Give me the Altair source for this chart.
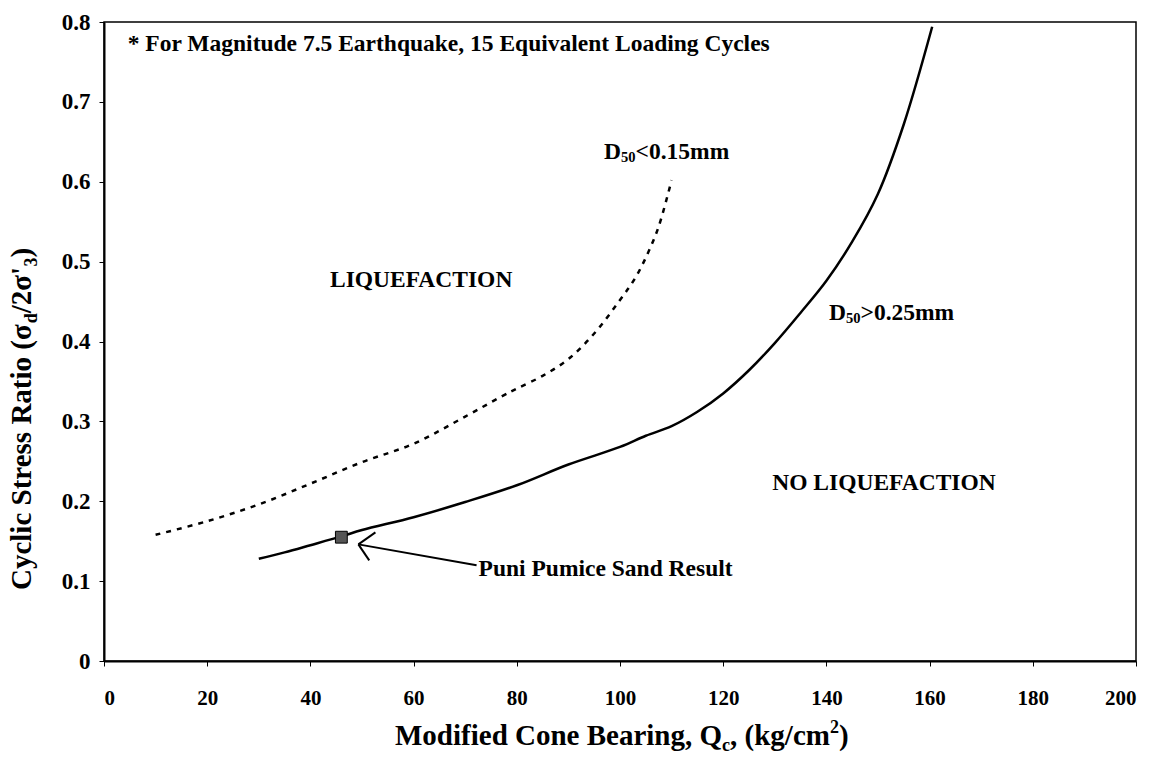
import altair as alt
import pandas as pd

# Boundary for clean sands, D50 > 0.25 mm (solid curve)
coarse_qc = [30, 35, 40, 46, 50, 60, 70, 80, 90, 100, 105, 110, 115, 120, 125, 130, 135, 140, 145, 150, 155, 160.5]
coarse_csr = [0.128, 0.136, 0.145, 0.156, 0.164, 0.180, 0.199, 0.220, 0.246, 0.268, 0.282, 0.294, 0.312,
              0.335, 0.364, 0.398, 0.436, 0.476, 0.525, 0.585, 0.672, 0.794]

# Boundary for fine sands, D50 < 0.15 mm (dotted curve)
fine_qc = [10, 20, 30, 40, 50, 60, 70, 77, 80, 85, 90, 95, 100, 103, 105.5, 107.5, 110]
fine_csr = [0.158, 0.175, 0.196, 0.222, 0.249, 0.272, 0.306, 0.331, 0.341, 0.357, 0.378, 0.410, 0.452,
            0.480, 0.512, 0.544, 0.602]

# Test result
result_qc = [46]
result_csr = [0.155]

# Arrow pointing at the test result: shaft, upper barb, lower barb
arrow_x = [72.2, 49.3, 49.3]
arrow_y = [0.120, 0.146, 0.146]
arrow_x2 = [49.3, 52.6, 51.4]
arrow_y2 = [0.146, 0.161, 0.126]

x_ticks = [0, 20, 40, 60, 80, 100, 120, 140, 160, 180, 200]
y_ticks = [0, 0.1, 0.2, 0.3, 0.4, 0.5, 0.6, 0.7, 0.8]

SERIF = "Liberation Serif"
PLOT_W, PLOT_H = 1032, 639

# Advance widths (1/1000 em) of the bold serif face, used to lay out
# titles that mix normal, subscript and superscript runs.
ADV = {
    " ": 250, ",": 250, "(": 333, ")": 333, "/": 278, "'": 278, "<": 570, ">": 570, ".": 250,
    "0": 500, "1": 500, "2": 500, "3": 500, "5": 500,
    "M": 944, "C": 722, "B": 667, "Q": 778, "S": 556, "R": 722, "D": 722,
    "a": 500, "b": 556, "c": 444, "d": 556, "e": 444, "f": 333, "g": 500, "i": 278, "k": 556,
    "l": 278, "m": 833, "n": 556, "o": 500, "r": 444, "s": 389, "t": 333, "y": 500,
    "σ": 560,
}


def text_width(s, size):
    return sum(ADV.get(ch, 500) for ch in s) / 1000.0 * size


one_row = pd.DataFrame({"k": [0]})


def rich_title(pieces, x0, y0, size, angle=0):
    """Pixel-positioned title made of runs: (text, scale, shift in em, + = lower)."""
    layers = []
    pos = 0.0
    for txt, scale, shift in pieces:
        fs = size * scale
        off = shift * size
        if angle == 0:
            px, py = x0 + pos, y0 + off
        else:  # rotated 270: text runs bottom-to-top
            px, py = x0 + off, y0 - pos
        layers.append(
            alt.Chart(one_row).mark_text(
                text=txt, font=SERIF, fontWeight="bold", fontSize=fs,
                align="left", baseline="alphabetic", angle=angle, color="black",
            ).encode(x=alt.value(px), y=alt.value(py))
        )
        pos += text_width(txt, fs)
    return layers


def note(txt, qc, csr, size=23.5):
    return alt.Chart(pd.DataFrame({"qc": [qc], "csr": [csr]})).mark_text(
        text=txt, font=SERIF, fontWeight="bold", fontSize=size,
        align="left", baseline="middle", color="black",
    ).encode(x="qc:Q", y="csr:Q")


def d50_note(rest, qc, csr, size=23.5):
    """'D' with a subscript '50' followed by the rest of the label."""
    df = pd.DataFrame({"qc": [qc], "csr": [csr]})
    sub = size * 0.62
    w_d = text_width("D", size)
    w_sub = text_width("50", sub)
    parts = [("D", size, 0, 0), ("50", sub, w_d, 0.25 * size), (rest, size, w_d + w_sub, 0)]
    return [
        alt.Chart(df).mark_text(
            text=t, font=SERIF, fontWeight="bold", fontSize=fs, dx=dx, dy=dy,
            align="left", baseline="middle", color="black",
        ).encode(x="qc:Q", y="csr:Q")
        for t, fs, dx, dy in parts
    ]


x_scale = alt.Scale(domain=[0, 200], nice=False, zero=False)
y_scale = alt.Scale(domain=[0, 0.8], nice=False, zero=False)

axis_common = dict(
    labelFont=SERIF, labelFontWeight="bold", labelColor="black",
    tickColor="black", tickSize=5, tickWidth=1, domainColor="black", domainWidth=2,
    grid=False, title=None,
)

coarse_df = pd.DataFrame({"qc": coarse_qc, "csr": coarse_csr})
fine_df = pd.DataFrame({"qc": fine_qc, "csr": fine_csr})

coarse_line = alt.Chart(coarse_df).mark_line(
    color="black", strokeWidth=2.5, interpolate="catmull-rom"
).encode(
    x=alt.X("qc:Q", scale=x_scale,
            axis=alt.Axis(values=x_ticks, format="d", labelFontSize=21, labelPadding=21, **axis_common)),
    y=alt.Y("csr:Q", scale=y_scale,
            axis=alt.Axis(values=y_ticks, format="~g", labelFontSize=23, labelPadding=9, **axis_common)),
)

fine_line = alt.Chart(fine_df).mark_line(
    color="black", strokeWidth=2.5, strokeDash=[5, 6], interpolate="catmull-rom"
).encode(x="qc:Q", y="csr:Q")

result_pt = alt.Chart(pd.DataFrame({"qc": result_qc, "csr": result_csr})).mark_point(
    shape="square", filled=True, size=140, fill="#555555", stroke="black", strokeWidth=1, opacity=1
).encode(x="qc:Q", y="csr:Q")

arrow = alt.Chart(pd.DataFrame({"x": arrow_x, "y": arrow_y, "x2": arrow_x2, "y2": arrow_y2})).mark_rule(
    color="black", strokeWidth=2
).encode(x="x:Q", y="y:Q", x2="x2:Q", y2="y2:Q")

layers = [coarse_line, fine_line, arrow, result_pt]
layers.append(note("* For Magnitude 7.5 Earthquake, 15 Equivalent Loading Cycles", 4.6, 0.772))
layers.append(note("LIQUEFACTION", 43.8, 0.477))
layers.append(note("NO LIQUEFACTION", 129.5, 0.223))
layers.append(note("Puni Pumice Sand Result", 72.6, 0.115))
layers += d50_note("<0.15mm", 96.9, 0.637)
layers += d50_note(">0.25mm", 140.5, 0.4355)

# Axis titles with sub- and superscripts
layers += rich_title(
    [("Modified Cone Bearing, Q", 1, 0), ("c", 0.62, 0.2), (", (kg/cm", 1, 0), ("2", 0.62, -0.42), (")", 1, 0)],
    x0=291, y0=723, size=29,
)
layers += rich_title(
    [("Cyclic Stress Ratio (σ", 1, 0), ("d", 0.62, 0.2), ("/2σ'", 1, 0), ("3", 0.62, 0.2), (")", 1, 0)],
    x0=-73, y0=568, size=29, angle=270,
)

chart = alt.layer(*layers).properties(
    width=PLOT_W, height=PLOT_H,
    autosize=alt.AutoSizeParams(type="none"),
    padding={"left": 104, "top": 22, "right": 23, "bottom": 104},
    background="white",
).configure_view(stroke="black", strokeWidth=1.5)

chart.save("out.html", embed_options={"renderer": "svg", "actions": False})
